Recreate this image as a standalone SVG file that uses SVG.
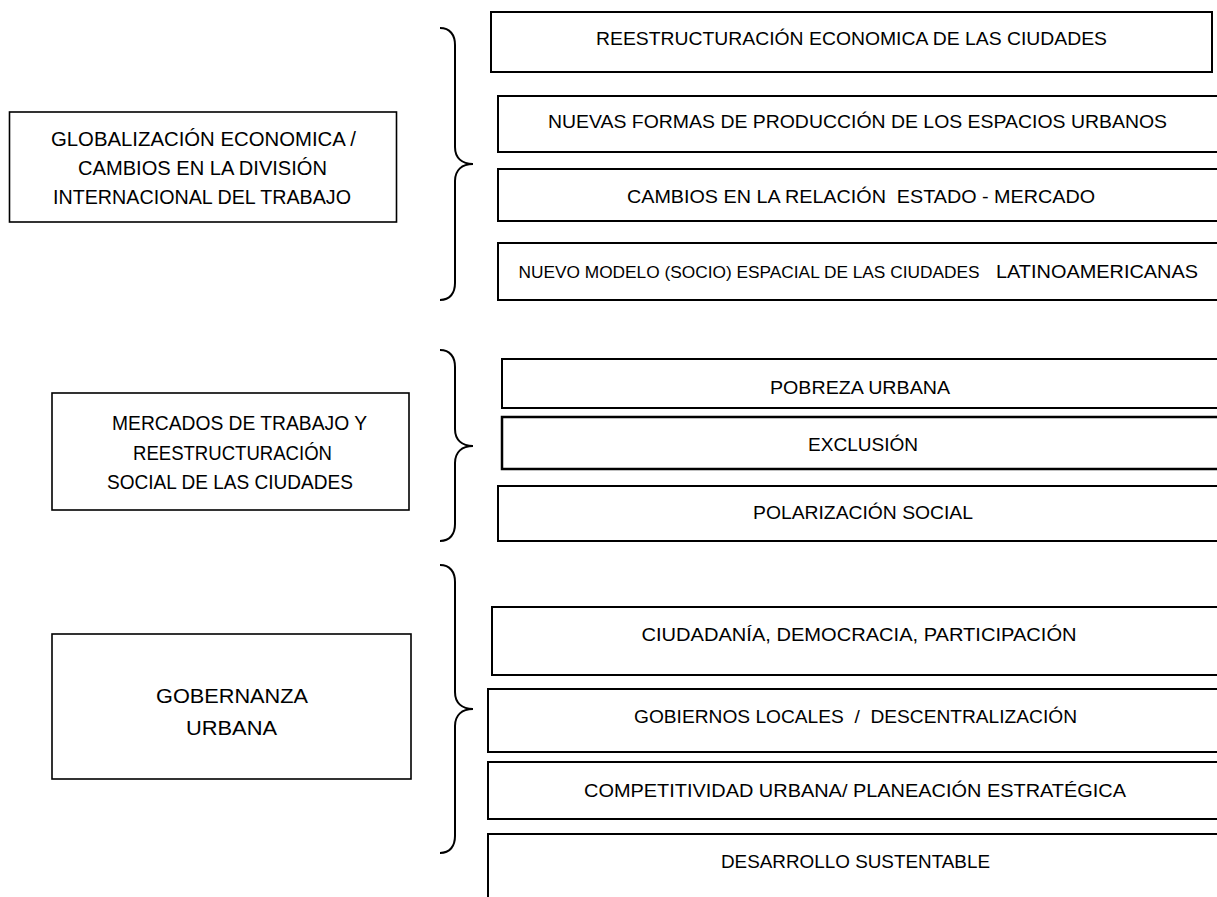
<svg xmlns="http://www.w3.org/2000/svg" width="1217" height="897" viewBox="0 0 1217 897">
<style>
.box{fill:#fff;stroke:#000;stroke-width:2}
.lbox{fill:#fff;stroke:#000;stroke-width:1.6}
.brace{fill:none;stroke:#000;stroke-width:2}
text{font-family:"Liberation Sans",Arial,sans-serif;fill:#000;text-anchor:middle}
.l{font-size:20px}
.r{font-size:18px}
</style>
<rect width="1217" height="897" fill="#fff"/>
<g id="connectors">
<path class="brace" d="M440,28 C450,28 455,35 455,45 L455,147 C455,158 462,164 473,164 C462,164 455,170 455,181 L455,283 C455,293 450,300 440,300"/>
<path class="brace" d="M440,350 C450,350 455,357 455,367 L455,429 C455,440 462,446 473,446 C462,446 455,452 455,463 L455,524 C455,534 450,541 440,541"/>
<path class="brace" d="M440,565 C450,565 455,572 455,582 L455,692 C455,703 462,709 473,709 C462,709 455,715 455,726 L455,836 C455,846 450,853 440,853"/>
</g>
<g id="globalizacion">
<rect class="lbox" x="9.5" y="112" width="387" height="110"/>
<text class="l" x="203.5" y="146" textLength="305" lengthAdjust="spacingAndGlyphs">GLOBALIZACIÓN ECONOMICA /</text>
<text class="l" x="202.5" y="175" textLength="249" lengthAdjust="spacingAndGlyphs">CAMBIOS EN LA DIVISIÓN</text>
<text class="l" x="202" y="204" textLength="298" lengthAdjust="spacingAndGlyphs">INTERNACIONAL DEL TRABAJO</text>
</g>
<g id="mercados">
<rect class="lbox" x="52" y="393" width="357" height="117"/>
<text class="l" x="239.5" y="430" textLength="255" lengthAdjust="spacingAndGlyphs">MERCADOS DE TRABAJO Y</text>
<text class="l" x="232.5" y="460" textLength="199" lengthAdjust="spacingAndGlyphs">REESTRUCTURACIÓN</text>
<text class="l" x="230" y="489" textLength="246" lengthAdjust="spacingAndGlyphs">SOCIAL DE LAS CIUDADES</text>
</g>
<g id="gobernanza">
<rect class="lbox" x="52" y="634" width="359" height="145"/>
<text class="l" x="232" y="703" style="font-size:21px" textLength="152" lengthAdjust="spacingAndGlyphs">GOBERNANZA</text>
<text class="l" x="231.5" y="735" style="font-size:21px" textLength="91" lengthAdjust="spacingAndGlyphs">URBANA</text>
</g>
<g id="reestructuracion">
<rect class="box" x="491" y="12" width="721" height="60"/>
<text class="r" x="851.5" y="45" textLength="511" lengthAdjust="spacingAndGlyphs">REESTRUCTURACIÓN ECONOMICA DE LAS CIUDADES</text>
</g>
<g id="nuevas-formas">
<rect class="box" x="498" y="96" width="725" height="56"/>
<text class="r" x="857.5" y="128" textLength="619" lengthAdjust="spacingAndGlyphs">NUEVAS FORMAS DE PRODUCCIÓN DE LOS ESPACIOS URBANOS</text>
</g>
<g id="estado-mercado">
<rect class="box" x="498" y="169" width="725" height="52"/>
<text class="r" x="861" y="203" textLength="468" lengthAdjust="spacingAndGlyphs" xml:space="preserve">CAMBIOS EN LA RELACIÓN  ESTADO - MERCADO</text>
</g>
<g id="nuevo-modelo">
<rect class="box" x="498" y="243" width="725" height="57"/>
<text x="749" y="278" style="font-size:16px" textLength="461" lengthAdjust="spacingAndGlyphs">NUEVO MODELO (SOCIO) ESPACIAL DE LAS CIUDADES</text>
<text x="1097" y="278" style="font-size:18px" textLength="202" lengthAdjust="spacingAndGlyphs">LATINOAMERICANAS</text>
</g>
<g id="pobreza">
<rect class="box" x="502" y="359" width="721" height="49"/>
<text class="r" x="860" y="394" textLength="180" lengthAdjust="spacingAndGlyphs">POBREZA URBANA</text>
</g>
<g id="exclusion">
<rect class="box" x="502" y="417" width="721" height="52" style="stroke-width:2.5"/>
<text class="r" x="863" y="451" textLength="110" lengthAdjust="spacingAndGlyphs">EXCLUSIÓN</text>
</g>
<g id="polarizacion">
<rect class="box" x="498" y="486" width="725" height="55"/>
<text class="r" x="863" y="519" textLength="220" lengthAdjust="spacingAndGlyphs">POLARIZACIÓN SOCIAL</text>
</g>
<g id="ciudadania">
<rect class="box" x="492" y="607" width="731" height="68"/>
<text class="r" x="859" y="641" textLength="435" lengthAdjust="spacingAndGlyphs">CIUDADANÍA, DEMOCRACIA, PARTICIPACIÓN</text>
</g>
<g id="gobiernos-locales">
<rect class="box" x="488" y="689" width="735" height="63"/>
<text class="r" x="855.5" y="723" textLength="443" lengthAdjust="spacingAndGlyphs" xml:space="preserve">GOBIERNOS LOCALES  /  DESCENTRALIZACIÓN</text>
</g>
<g id="competitividad">
<rect class="box" x="488" y="762" width="735" height="57"/>
<text class="r" x="855" y="797" textLength="542" lengthAdjust="spacingAndGlyphs">COMPETITIVIDAD URBANA/ PLANEACIÓN ESTRATÉGICA</text>
</g>
<g id="desarrollo">
<rect class="box" x="488" y="834" width="735" height="80"/>
<text class="r" x="855.5" y="868" textLength="269" lengthAdjust="spacingAndGlyphs">DESARROLLO SUSTENTABLE</text>
</g>
</svg>
